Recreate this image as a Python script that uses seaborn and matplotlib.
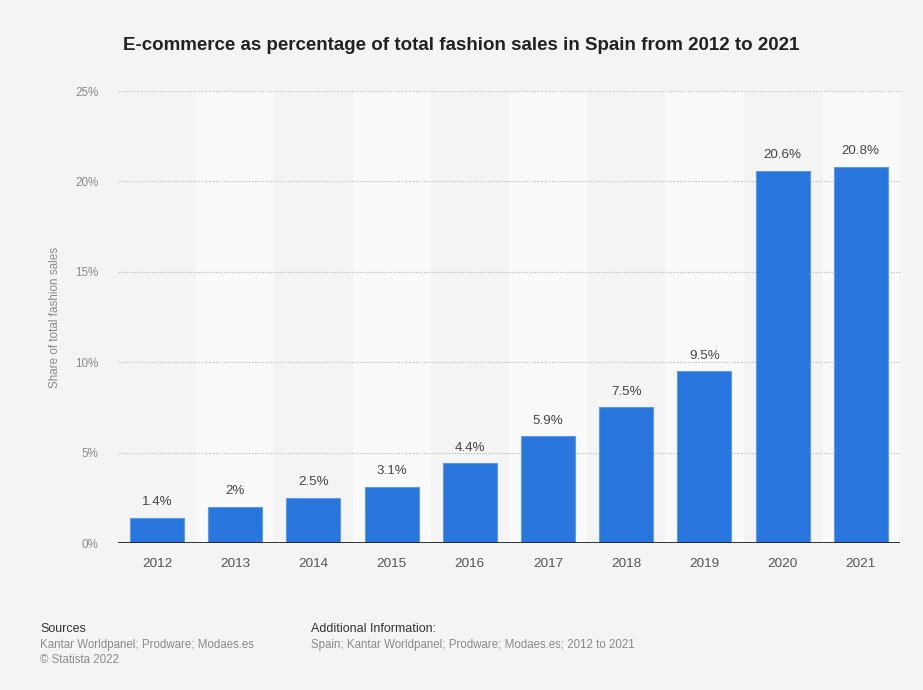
import matplotlib
matplotlib.use("Agg")
import matplotlib.pyplot as plt
import seaborn as sns
import pandas as pd
from matplotlib.ticker import FuncFormatter

years = ["2012", "2013", "2014", "2015", "2016", "2017", "2018", "2019", "2020", "2021"]
share = [1.4, 2.0, 2.5, 3.1, 4.4, 5.9, 7.5, 9.5, 20.6, 20.8]
y_ticks = [0, 5, 10, 15, 20, 25]

title = "E-commerce as percentage of total fashion sales in Spain from 2012 to 2021"
y_label = "Share of total fashion sales"
sources_head = "Sources"
sources_body = "Kantar Worldpanel; Prodware; Modaes.es"
copyright_text = "© Statista 2022"
info_head = "Additional Information:"
info_body = "Spain; Kantar Worldpanel; Prodware; Modaes.es; 2012 to 2021"

BG = "#f4f4f4"
BAND = "#fafafa"
BAR = "#2876dd"

sns.set_theme(style="white")
plt.rcParams["font.family"] = ["Liberation Sans", "DejaVu Sans"]

df = pd.DataFrame({"year": years, "share": share})

fig = plt.figure(figsize=(9.23, 6.9), dpi=100, facecolor=BG)
ax = fig.add_axes([0.1278, 0.213, 0.975 - 0.1278, 0.868 - 0.213])
ax.set_facecolor(BG)

# alternating column bands
for i in range(len(years)):
    if i % 2 == 1:
        ax.axvspan(i - 0.5, i + 0.5, color=BAND, zorder=0, lw=0)

sns.barplot(data=df, x="year", y="share", color=BAR, saturation=1, width=0.69,
            edgecolor="#5e9be6", linewidth=0.8, ax=ax, zorder=3)

ax.set_xlim(-0.5, len(years) - 0.5)
ax.set_ylim(0, 25)
ax.set_yticks(y_ticks)
ax.yaxis.set_major_formatter(FuncFormatter(lambda v, p: f"{v:g}%"))

for t in y_ticks[1:]:
    ax.axhline(t, color="#b4b4b4", lw=0.8, ls=(0, (1, 1.5)), zorder=1)
ax.axhline(0, color="#222222", lw=1.3, zorder=4)

for c in ax.containers:
    ax.bar_label(c, labels=[f"{v:g}%" for v in share], padding=7,
                 fontsize=9.6, color="#444444")

for s in ax.spines.values():
    s.set_visible(False)

ax.tick_params(axis="x", length=0, pad=11, labelsize=9.7, labelcolor="#555555")
ax.tick_params(axis="y", length=0, pad=14, labelsize=8.4, labelcolor="#8a8a8a")
ax.set_xlabel("")
ax.set_ylabel(y_label, fontsize=8.4, color="#8a8a8a", labelpad=10)

fig.text(0.5, 1 - 45 / 690, title, ha="center", va="center",
         fontsize=13.5, fontweight="bold", color="#222222")

fig.text(40 / 923, 1 - 629 / 690, sources_head, ha="left", va="center",
         fontsize=9, color="#333333")
fig.text(40 / 923, 1 - 645 / 690, sources_body, ha="left", va="center",
         fontsize=8.3, color="#8a8a8a")
fig.text(40 / 923, 1 - 660 / 690, copyright_text, ha="left", va="center",
         fontsize=8.3, color="#8a8a8a")
fig.text(311 / 923, 1 - 629 / 690, info_head, ha="left", va="center",
         fontsize=9, color="#333333")
fig.text(311 / 923, 1 - 645 / 690, info_body, ha="left", va="center",
         fontsize=8.3, color="#8a8a8a")

fig.savefig("out.png", dpi=100, facecolor=BG)
